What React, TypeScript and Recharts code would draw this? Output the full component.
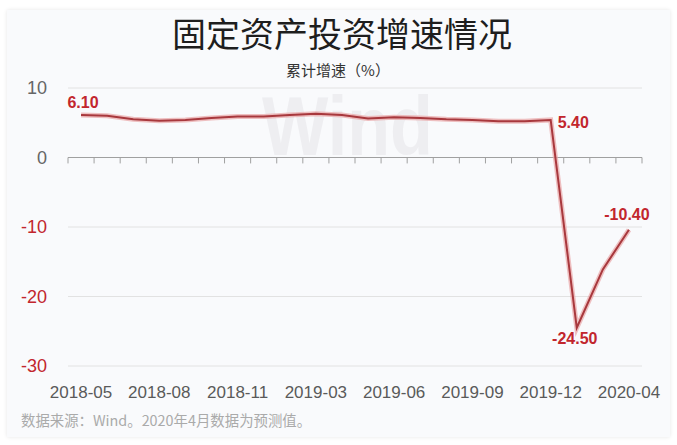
import React from 'react';
import { LineChart, Line, XAxis, YAxis, CartesianGrid, ReferenceLine, LabelList } from 'recharts';

const months = [
  '2018-05', '2018-06', '2018-07', '2018-08', '2018-09', '2018-10', '2018-11', '2018-12',
  '2019-02', '2019-03', '2019-04', '2019-05', '2019-06', '2019-07', '2019-08', '2019-09',
  '2019-10', '2019-11', '2019-12', '2020-02', '2020-03', '2020-04',
];
const growth = [
  6.1, 6.0, 5.5, 5.3, 5.4, 5.7, 5.9, 5.9,
  6.1, 6.3, 6.1, 5.6, 5.8, 5.7, 5.5, 5.4,
  5.2, 5.2, 5.4, -24.5, -16.1, -10.4,
];
const xTickIdx = [0, 3, 6, 9, 12, 15, 18, 21];
const yTicks = [10, 0, -10, -20, -30];
const labeledIdx = [0, 18, 19, 21];

const data = months.map((m, i) => ({ idx: i, month: m, value: growth[i] }));
const bandEdges = Array.from({ length: months.length + 1 }, (_, k) => k - 0.5);

const NUM_FONT = '"Liberation Sans", Arial, sans-serif';
const CJK_FONT = '"Noto Sans CJK SC", "Noto Sans", sans-serif';
const RED = '#c2262d';

const labelStyle: Record<number, { dx: number; dy: number; anchor: string }> = {
  0: { dx: 2, dy: -13, anchor: 'middle' },
  18: { dx: 7, dy: 3, anchor: 'start' },
  19: { dx: -2, dy: 11, anchor: 'middle' },
  21: { dx: -2, dy: -15, anchor: 'middle' },
};

const YTick = (props: any) => {
  const { x, y, payload } = props;
  const v = payload.value;
  return (
    <text x={x} y={y} textAnchor="end" dominantBaseline="central" fontSize={18}
      fontFamily={NUM_FONT} fill={v < 0 ? RED : '#666666'}>
      {v}
    </text>
  );
};

const PointLabel = (props: any) => {
  const { x, y, value, index } = props;
  if (!labeledIdx.includes(index)) return null;
  const s = labelStyle[index];
  return (
    <text x={x + s.dx} y={y + s.dy} textAnchor={s.anchor} dominantBaseline="central"
      fontSize={16} fontWeight="bold" fontFamily={NUM_FONT} fill={RED}>
      {Number(value).toFixed(2)}
    </text>
  );
};

export default function App() {
  return (
    <div style={{ position: 'absolute', left: 0, top: 0, width: 677, height: 445, background: '#ffffff', overflow: 'hidden' }}>
      <div style={{
        position: 'absolute', left: 7, top: 10, width: 663, height: 427,
        background: '#f9fafc', boxShadow: '0 0 4px rgba(0,0,0,0.10)',
      }} />
      <svg width={677} height={445} style={{ position: 'absolute', left: 0, top: 0 }}>
        <text x={262} y={155} fontSize={84} fontWeight="bold" fontFamily={NUM_FONT}
          fill="#eeeef1" textLength={171} lengthAdjust="spacingAndGlyphs">Wind</text>
        <text x={342} y={47} textAnchor="middle" fontSize={34} fontFamily={CJK_FONT} fill="#1e1e1e">
          固定资产投资增速情况
        </text>
        <text x={338} y={76} textAnchor="middle" fontSize={15} fontFamily={CJK_FONT} fill="#333333">
          累计增速（%）
        </text>
        <text x={21} y={426} fontSize={14.4} fontFamily={CJK_FONT} fill="#aaaaaa">
          数据来源：Wind。2020年4月数据为预测值。
        </text>
      </svg>
      <div style={{ position: 'absolute', left: 0, top: 0 }}>
        <LineChart width={677} height={445} data={data}
          margin={{ top: 88, right: 35, bottom: 49, left: 0 }}>
          <CartesianGrid vertical={false} stroke="#e2e2e2" />
          <XAxis dataKey="idx" type="number" domain={[-0.5, 21.5]} ticks={xTickIdx} interval={0}
            tickFormatter={(v: number) => months[v]} axisLine={false} tickLine={false}
            tickSize={0} tickMargin={20} height={30}
            tick={{ fill: '#5a5a5a', fontSize: 17, fontFamily: NUM_FONT }} />
          <YAxis type="number" domain={[-30, 10]} ticks={yTicks} width={68}
            axisLine={false} tickLine={false} tickSize={0} tickMargin={21} tick={<YTick />} />
          <ReferenceLine y={0} stroke="#a0a0a0" strokeWidth={1} />
          {bandEdges.map((e) => (
            <ReferenceLine key={e} segment={[{ x: e, y: 0 }, { x: e, y: -0.85 }]} stroke="#a0a0a0" strokeWidth={1} />
          ))}
          <Line type="linear" dataKey="value" stroke="#eaa5a6" strokeOpacity={0.7} strokeWidth={5}
            dot={false} activeDot={false} isAnimationActive={false} />
          <Line type="linear" dataKey="value" stroke="#a8383d" strokeWidth={2}
            dot={false} activeDot={false} isAnimationActive={false}>
            <LabelList dataKey="value" content={<PointLabel />} />
          </Line>
        </LineChart>
      </div>
    </div>
  );
}
